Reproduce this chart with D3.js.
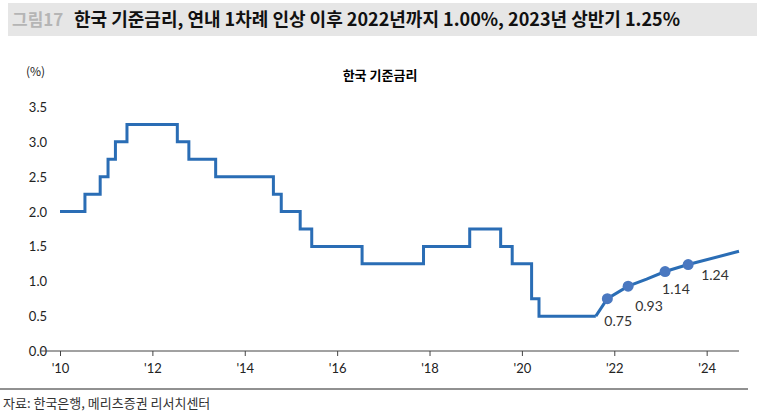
<!DOCTYPE html><html><head><meta charset="utf-8"><script src="https://d3js.org/d3.v7.min.js"></script>
<style>body{margin:0;background:#fff;font-family:"Noto Sans CJK KR","Noto Sans",sans-serif}</style></head><body><svg id="c" width="757" height="413"></svg><script>
const stepDates=[2010.0,2010.54,2010.87,2011.04,2011.2,2011.45,2012.54,2012.79,2013.37,2014.62,2014.79,2015.2,2015.45,2016.54,2017.87,2018.87,2019.54,2019.79,2020.21,2020.37,2021.6];
const stepRates=[2.00,2.25,2.50,2.75,3.00,3.25,3.00,2.75,2.50,2.25,2.00,1.75,1.50,1.25,1.50,1.75,1.50,1.25,0.75,0.50,0.50];
const fcDates=[2021.6,2021.85,2022.3,2022.7,2023.1,2023.6,2024.7];
const fcRates=[0.50,0.75,0.93,1.03,1.14,1.24,1.43];
const ptDates=[2021.85,2022.3,2023.1,2023.6];
const ptRates=[0.75,0.93,1.14,1.24];
const ptLabels=["0.75","0.93","1.14","1.24"];
const labDx=[-3,7,-3,13];
const labDy=[27,25,22,15];
const yTicks=[0,0.5,1,1.5,2,2.5,3,3.5];
const xTicks=[2010,2012,2014,2016,2018,2020,2022,2024];
const svg=d3.select("#c");
const x=d3.scaleLinear().domain([2010,2024.7]).range([60,739]);
const y=d3.scaleLinear().domain([0,3.5]).range([351,107]);
svg.append("rect").attr("x",8).attr("y",3).attr("width",749).attr("height",33).attr("fill","#e6e6e6");
svg.append("text").attr("x",12).attr("y",26).attr("font-size",17).attr("fill","#b5b5b5").attr("font-weight","bold").text("그림17");
svg.append("text").attr("x",74).attr("y",26).attr("font-size",18).attr("font-weight","bold").attr("fill","#111").text("한국 기준금리, 연내 1차례 인상 이후 2022년까지 1.00%, 2023년 상반기 1.25%");
svg.append("text").attr("x",26).attr("y",76).attr("font-size",12).attr("fill","#222").text("(%)");
svg.append("text").attr("x",380).attr("y",80).attr("font-size",13).attr("font-weight","bold").attr("text-anchor","middle").text("한국 기준금리");
const ya=svg.append("g");
yTicks.forEach(t=>ya.append("text").attr("x",47).attr("y",y(t)+5).attr("text-anchor","end").attr("font-size",13).attr("fill","#222").attr("font-family","Lato,sans-serif").text(t.toFixed(1)));
const xa=svg.append("g").attr("transform","translate(0,351)").call(d3.axisBottom(x).tickValues(xTicks).tickSize(5).tickFormat(d=>"'"+String(d).slice(2)));
xa.select(".domain").attr("d","M40,0H739").attr("stroke","#444");
xa.selectAll("line").attr("stroke","#444");
xa.selectAll("text").attr("font-size",13).attr("fill","#222").attr("dy","1.1em").attr("font-family","Lato,sans-serif");
const data=stepDates.map((d,i)=>[d,stepRates[i]]);
const col="#2a6db5";
svg.append("path").datum(data).attr("fill","none").attr("stroke",col).attr("stroke-width",3).attr("d",d3.line().x(d=>x(d[0])).y(d=>y(d[1])).curve(d3.curveStepAfter));
svg.append("path").datum(fcDates.map((d,i)=>[d,fcRates[i]])).attr("fill","none").attr("stroke",col).attr("stroke-width",3).attr("d",d3.line().x(d=>x(d[0])).y(d=>y(d[1])));
ptDates.forEach((d,i)=>{
svg.append("circle").attr("cx",x(d)).attr("cy",y(ptRates[i])).attr("r",5.5).attr("fill","#4a78c0");
svg.append("text").attr("x",x(d)+labDx[i]).attr("y",y(ptRates[i])+labDy[i]).attr("font-size",14).attr("fill","#333").attr("font-family","Lato,sans-serif").text(ptLabels[i]);
});
svg.append("line").attr("x1",0).attr("x2",748).attr("y1",389).attr("y2",389).attr("stroke","#222");
svg.append("text").attr("x",3).attr("y",408).attr("font-size",13).attr("fill","#333").text("자료: 한국은행, 메리츠증권 리서치센터");
</script></body></html>
